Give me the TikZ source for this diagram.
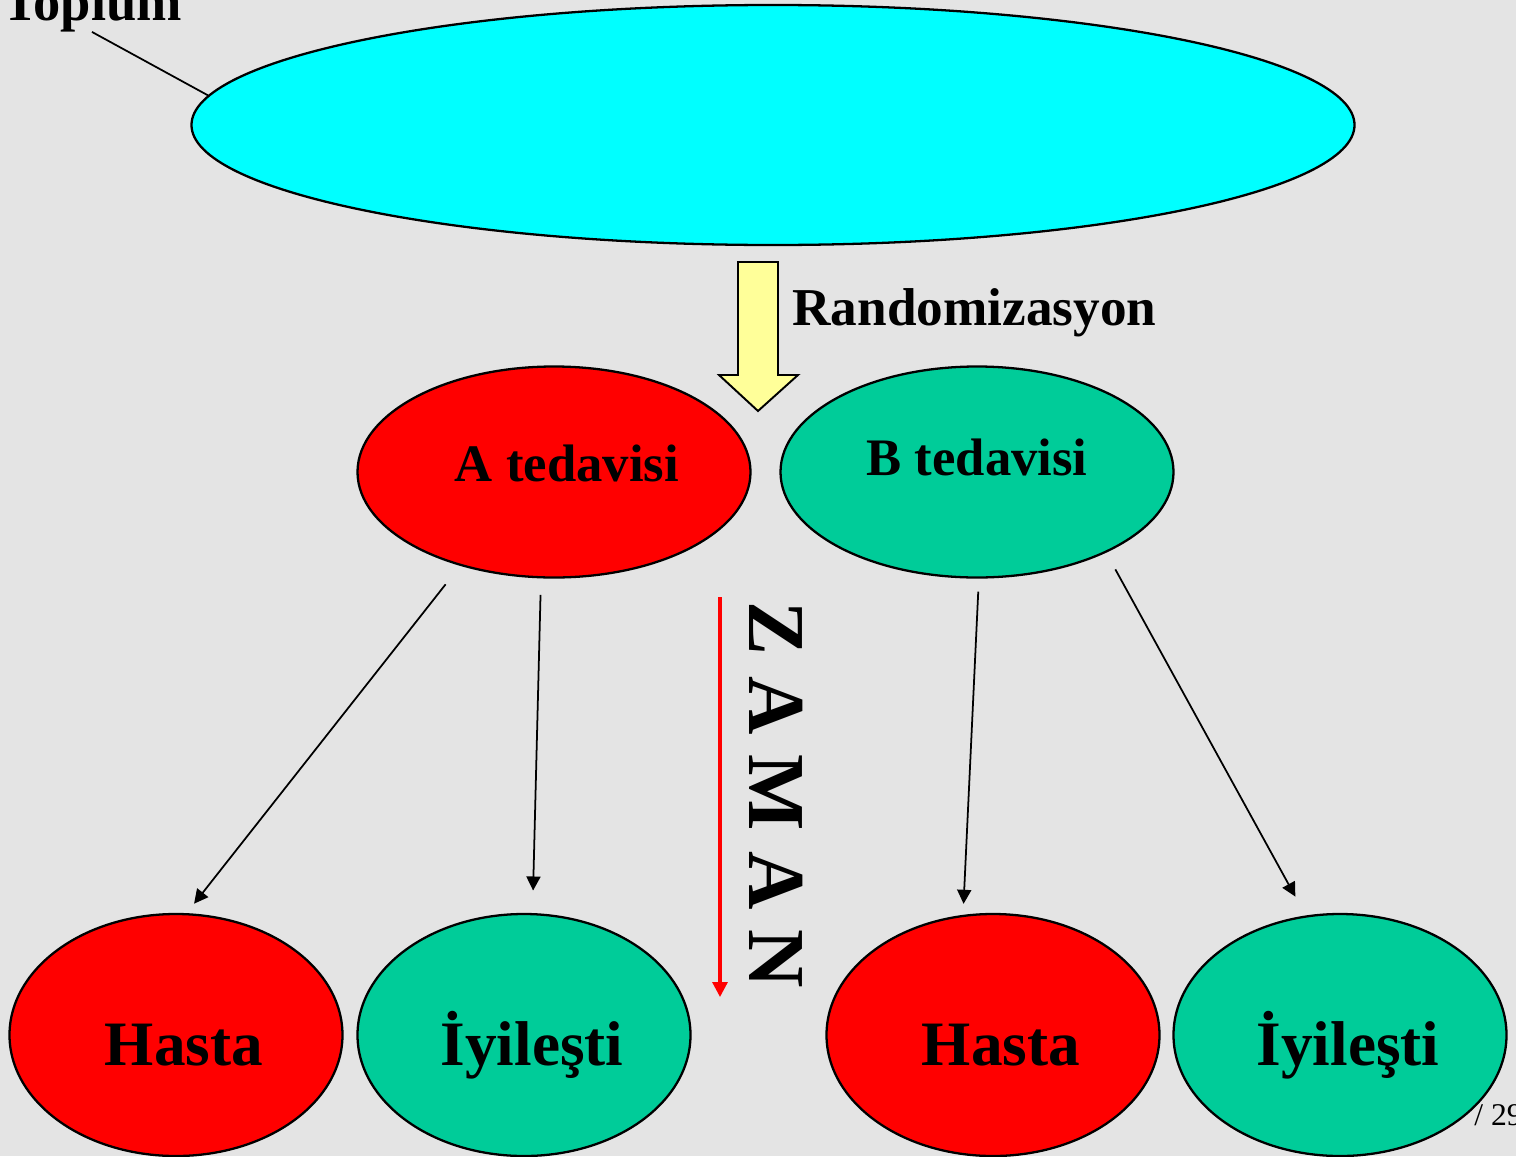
\documentclass[tikz,border=0pt]{standalone}
\usepackage{fontspec}
\setmainfont{Liberation Serif}
\usetikzlibrary{calc,positioning,arrows.meta,shapes.geometric}

\definecolor{bggray}{RGB}{228,228,228}
\definecolor{popcyan}{RGB}{0,255,255}
\definecolor{trred}{RGB}{255,0,0}
\definecolor{trgreen}{RGB}{0,204,153}
\definecolor{randyellow}{RGB}{255,255,153}

\begin{document}
\begin{tikzpicture}[x=0.2mm,y=-0.2mm,
  oval/.style={draw,ellipse,line width=1.3pt,inner sep=0pt,font=\bfseries},
  group/.style={oval,minimum width=78.6mm,minimum height=42.2mm,text height=7.2mm,
    font=\fontsize{30}{32}\selectfont\bfseries},
  result/.style={oval,minimum width=66.6mm,minimum height=48.4mm,
    text height=12mm,text depth=0pt,execute at begin node={\hspace*{3.2mm}},
    font=\fontsize{36}{38}\selectfont\bfseries},
  link/.style={-{Triangle[width=8pt,length=8pt]},line width=1pt},
  ]

  % background
  \fill[bggray] (0,0) rectangle (1516,1156);
  \useasboundingbox (0,0) rectangle (1516,1156);

  \node (top) [oval,fill=popcyan,minimum width=232.6mm,minimum height=48mm] at (773,125) {};
  \node (toplum) [anchor=base,inner sep=0pt,font=\fontsize{31}{33}\selectfont\bfseries] at (92,20) {Toplum};
  \draw[line width=1pt] (toplum.south) -- (top.177);

  % randomizasyon
  \draw[fill=randyellow,line width=1.1pt] (738,262) -- (778,262) -- (778,375) -- (798,375)
    -- (758,411) -- (719,375) -- (738,375) -- cycle;
  \node (rand) [anchor=base west,inner sep=0pt,font=\fontsize{30.3}{32}\selectfont\bfseries] at (792,325) {Randomizasyon};

  \node (atr) [group,fill=trred,text depth=3.6mm] at (554,472) {\hspace*{5.2mm}A tedavisi};
  \node (btr) [group,fill=trgreen,text depth=6mm] at (977,472) {B tedavisi};

  \node (hastaA) [result,fill=trred] at (176,1035) {Hasta};
  \node (iyiA) [result,fill=trgreen] at (524,1035) {İyileşti};
  \node (hastaB) [result,fill=trred] at (993,1035) {Hasta};
  \node (iyiB) [result,fill=trgreen] at (1340,1035) {İyileşti};

  \draw[link,shorten <=4.7mm,shorten >=2.4mm] (atr.225) -- (hastaA.85);
  \draw[link,shorten <=3.3mm,shorten >=4.5mm] (atr.263) -- (iyiA.86);
  \draw[link,shorten <=2.6mm,shorten >=2.2mm] (btr.271) -- (hastaB.104);
  \draw[link,shorten <=3.8mm,shorten >=4.3mm] (btr.328) -- (iyiB.106);

  % zaman
  \coordinate (zstart) at (720,597);
  \coordinate (zend) at (720,997);
  \draw[trred,line width=1.8pt,-{Triangle[width=8.5pt,length=8.5pt]}] (zstart) -- (zend);
  \node (zaman) [rotate=-90,inner sep=0pt,font=\fontsize{46}{48}\selectfont\bfseries] at (776,795) {Z A M A N};

  \node (page) [anchor=base west,inner sep=0pt,font=\fontsize{18}{20}\selectfont] at (1474,1125) {/ 29};

\end{tikzpicture}
\end{document}
